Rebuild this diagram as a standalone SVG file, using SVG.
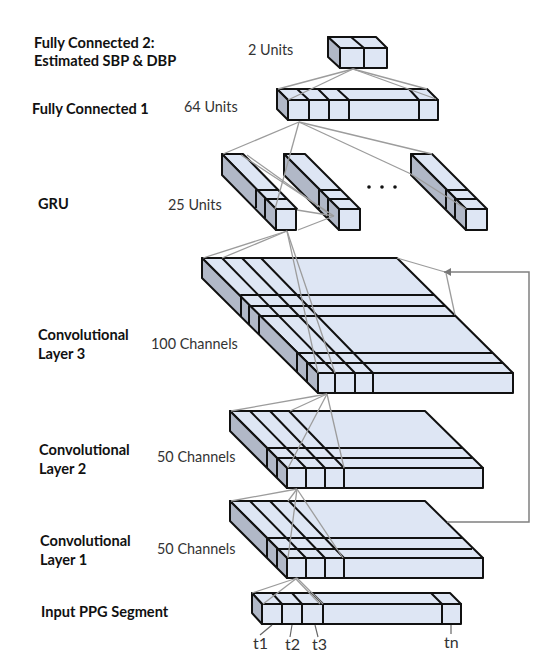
<svg xmlns="http://www.w3.org/2000/svg" width="549" height="663" viewBox="0 0 549 663">
<style>
text{font-family:"Lato","Liberation Sans",sans-serif;fill:#222}
.b{font-weight:700;font-size:14.6px;fill:#111}
.n{font-size:14.4px;fill:#333}
.l{font-size:16px;fill:#333}
.t{fill:#dee6f4;stroke:#111;stroke-width:2;stroke-linejoin:round}
.s{fill:#b1b8c7;stroke:#111;stroke-width:2;stroke-linejoin:round}
.e{fill:none;stroke:#111;stroke-width:2;stroke-linejoin:round}
.c line{stroke:#9c9c9c;stroke-width:1.3}
.k line{stroke:#666;stroke-width:1.2}
</style>
<defs>
<marker id="ah" markerUnits="userSpaceOnUse" markerWidth="8" markerHeight="10" refX="7" refY="4" orient="auto"><path d="M0 0L7 4L0 8Z" fill="#777"/></marker>
</defs>
<rect width="549" height="663" fill="#fff"/>

<g id="fc2">
<polygon class="t" points="328,37 376,37 387,48 340,48"/>
<polygon class="s" points="328,37 340,48 340,68 328,57"/>
<rect class="t" x="340" y="48" width="47" height="20"/>
<path class="e" d="M351,37L364,48V68"/>
</g>
<g id="fc1">
<polygon class="t" points="277,89 427,89 438,100 288,100"/>
<polygon class="s" points="277,89 288,100 288,120 277,109"/>
<rect class="t" x="288" y="100" width="150" height="20"/>
<path class="e" d="M297,89L309,100V120M318,89L329,100V120M337,89L349,100V120M409,89L419,100V120"/>
</g>
<g id="gru1">
<polygon class="t" points="222,154 243,154 297,209 276,209"/>
<polygon class="s" points="222,154 276,209 276,230 222,175"/>
<rect class="t" x="276" y="209" width="20" height="21"/>
<path class="e" d="M256,208V190H278M265,218V199H287"/>
</g>
<g id="gru2">
<polygon class="t" points="284,154 305,154 360,209 339,209"/>
<polygon class="s" points="284,154 339,209 339,230 284,175"/>
<rect class="t" x="339" y="209" width="21" height="21"/>
<path class="e" d="M319,209V190H341M328,219V199H350"/>
</g>
<g id="gru3">
<polygon class="t" points="411,154 432,154 487,209 466,209"/>
<polygon class="s" points="411,154 466,209 466,230 411,175"/>
<rect class="t" x="466" y="209" width="21" height="21"/>
<path class="e" d="M446,209V190H468M455,219V199H477"/>
</g>
<g id="gru-dots" fill="#111">
<circle cx="369" cy="187" r="1.8"/><circle cx="382" cy="187" r="1.8"/><circle cx="395" cy="187" r="1.8"/>
</g>
<g id="conv3">
<polygon class="t" points="202,258 397,258 513,373 318,373"/>
<polygon class="s" points="202,258 318,373 318,393 202,278"/>
<rect class="t" x="318" y="373" width="195" height="20"/>
<path class="e" d="M222,258L335,373V393M242,258L355,373V393M261,258L373,373V393"/>
<path class="e" d="M241,317V295H434M249,325V306H445M259,335V316H456M297,372V353H493M307,382V363H503"/>
</g>
<g id="conv2">
<polygon class="t" points="230,411 425,411 483,468 287,468"/>
<polygon class="s" points="230,411 287,468 287,488 230,431"/>
<rect class="t" x="287" y="468" width="196" height="20"/>
<path class="e" d="M250,411L306,468V488M270,411L325,468V488M289,411L344,468V488"/>
<path class="e" d="M267,468V448H462M277,478V458H472"/>
</g>
<g id="conv1">
<polygon class="t" points="230,501 425,501 483,558 287,558"/>
<polygon class="s" points="230,501 287,558 287,578 230,521"/>
<rect class="t" x="287" y="558" width="196" height="20"/>
<path class="e" d="M250,501L306,558V578M270,501L325,558V578M289,501L344,558V578"/>
<path class="e" d="M267,558V538H462M277,568V549H472"/>
</g>
<g id="input">
<polygon class="t" points="252,593 450,593 461,604 262,604"/>
<polygon class="s" points="252,593 262,604 262,624 252,613"/>
<rect class="t" x="262" y="604" width="199" height="20"/>
<path class="e" d="M272,593L282,604V624M292,593L302,604V624M312,593L323,604V624M431,593L442,604V624"/>
</g>

<g id="connectors">
<g class="c">
<line x1="353" y1="69" x2="278" y2="89"/><line x1="353" y1="69" x2="288" y2="100"/>
<line x1="353" y1="69" x2="427" y2="89"/><line x1="353" y1="69" x2="436" y2="99"/>
<line x1="299" y1="122" x2="223" y2="154"/><line x1="299" y1="122" x2="275" y2="209"/>
<line x1="299" y1="122" x2="432" y2="154"/><line x1="299" y1="122" x2="411" y2="174"/>
<line x1="241" y1="155" x2="334" y2="216"/><line x1="247" y1="155" x2="328" y2="213"/>
<line x1="297" y1="210" x2="334" y2="216"/><line x1="298" y1="230" x2="334" y2="216"/>
<line x1="466" y1="209" x2="411" y2="174"/>
<line x1="287" y1="231" x2="203" y2="258"/><line x1="287" y1="231" x2="222" y2="258"/>
<line x1="287" y1="231" x2="318" y2="373"/><line x1="287" y1="231" x2="335" y2="373"/>
<line x1="397" y1="258" x2="445" y2="272"/><line x1="455" y1="315" x2="446" y2="273"/>
<line x1="327" y1="394" x2="231" y2="411"/><line x1="327" y1="394" x2="290" y2="411"/>
<line x1="327" y1="394" x2="288" y2="468"/><line x1="327" y1="394" x2="344" y2="468"/>
<line x1="297" y1="489" x2="231" y2="501"/><line x1="297" y1="489" x2="288" y2="501"/>
<line x1="297" y1="489" x2="288" y2="558"/><line x1="297" y1="489" x2="343" y2="558"/>
<line x1="297" y1="578" x2="252" y2="593"/><line x1="297" y1="578" x2="263" y2="604"/>
<line x1="297" y1="578" x2="323" y2="604"/><line x1="295" y1="578" x2="320" y2="604"/>
</g>
<polyline points="447,522 529,522 529,272 444,272" fill="none" stroke="#808080" stroke-width="1.5" marker-end="url(#ah)"/>
<g class="k">
<line x1="272" y1="625" x2="260" y2="635"/><line x1="292" y1="625" x2="290" y2="637"/>
<line x1="315" y1="625" x2="318" y2="637"/><line x1="451" y1="625" x2="451" y2="634"/>
</g>
</g>

<g id="labels">
<text class="b" x="34" y="48">Fully Connected 2:</text>
<text class="b" x="34" y="66">Estimated SBP &amp; DBP</text>
<text class="b" x="32" y="114">Fully Connected 1</text>
<text class="b" x="38" y="209">GRU</text>
<text class="b" x="38" y="340">Convolutional</text>
<text class="b" x="38" y="359">Layer 3</text>
<text class="b" x="39" y="455">Convolutional</text>
<text class="b" x="39" y="474">Layer 2</text>
<text class="b" x="40" y="546">Convolutional</text>
<text class="b" x="40" y="565">Layer 1</text>
<text class="b" x="41" y="617">Input PPG Segment</text>
<text class="n" x="248" y="55">2 Units</text>
<text class="n" x="184" y="112">64 Units</text>
<text class="n" x="168" y="210">25 Units</text>
<text class="n" x="151" y="349">100 Channels</text>
<text class="n" x="157" y="462">50 Channels</text>
<text class="n" x="157" y="554">50 Channels</text>
<text class="l" x="253" y="649">t1</text>
<text class="l" x="285" y="650">t2</text>
<text class="l" x="312" y="650">t3</text>
<text class="l" x="444" y="648">tn</text>
</g>
</svg>
